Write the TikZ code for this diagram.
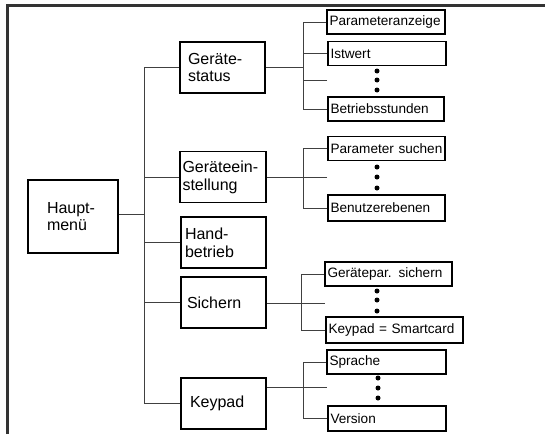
\documentclass[tikz,border=0pt]{standalone}
\usepackage{fontspec}
\setmainfont{Liberation Sans}
\begin{document}
\begin{tikzpicture}[x=1pt,y=-1pt,
  mainbox/.style={draw=black, line width=1.3pt, minimum height=51pt, inner ysep=0pt, align=left, font=\fontsize{16}{17.8}\selectfont},
  subbox/.style={draw=black, line width=1.3pt, minimum height=24pt, inner ysep=0pt, inner xsep=2.5pt, align=left, font=\fontsize{13.6}{15}\selectfont},
  conn/.style={draw=black!75, line width=0.9pt},
  dotn/.style={circle, fill=black, inner sep=0pt, minimum size=5pt}]
\useasboundingbox (0,0) rectangle (545,434);
% frame
\draw[line width=3pt, draw=black!80] (7,434) -- (7,5) -- (545,5);
% main nodes
\node[mainbox, minimum height=73pt, inner xsep=19pt, text width=52pt] (haupt) at (73,216.5) {Haupt-\\menü\\[4pt]};
\node[mainbox, inner xsep=8pt, text width=69pt] (gs) at (222.5,67.5) {Geräte-\\status};
\node[mainbox, inner xsep=2.5pt, text width=81pt] (ge) at (223,177) {Geräteein-\\stellung};
\node[mainbox, inner xsep=4pt, text width=77pt] (hb) at (223.5,242.5) {Hand-\\betrieb};
\node[mainbox, inner xsep=6pt, text width=73pt] (si) at (223.5,302.5) {Sichern};
\node[mainbox, inner xsep=9pt, text width=67pt] (kp) at (223.5,403.5) {Keypad};
% sub nodes
\node[subbox, text width=113pt] (pa) at (386,22) {Parameteranzeige};
\node[subbox, text width=113pt] (iw) at (387,53.5) {Istwert};
\node[subbox, text width=111pt] (bs) at (386,109) {Betriebsstunden};
\node[subbox, text width=112pt] (ps) at (386.5,148.5) {Parameter suchen};
\node[subbox, text width=112pt, minimum height=26pt] (be) at (386.5,208) {Benutzerebenen};
\node[subbox, text width=122pt] (gps) at (388.5,274) {Gerätepar. sichern};
\node[subbox, text width=132pt, minimum height=26pt] (ks) at (394.5,330) {Keypad = Smartcard};
\node[subbox, text width=114pt] (sp) at (386.5,362) {Sprache};
\node[subbox, text width=113pt, minimum height=25pt] (ve) at (387,418.5) {Version};
% dots
\foreach \n/\y in {a1/71,a2/80,a3/90}{\node[dotn] (\n) at (377,\y) {};}
\foreach \n/\y in {b1/167,b2/177,b3/188}{\node[dotn] (\n) at (377,\y) {};}
\foreach \n/\y in {c1/291,c2/300,c3/311}{\node[dotn] (\n) at (377,\y) {};}
\foreach \n/\y in {d1/378,d2/388,d3/398}{\node[dotn] (\n) at (378,\y) {};}
% main trunk
\coordinate (t) at (144,214);
\draw[conn] (haupt.east |- t) -- (t);
\draw[conn] (gs.west) -- (gs.west -| t) -- (kp.west -| t) -- (kp.west);
\draw[conn] (ge.west) -- (ge.west -| t);
\draw[conn] (hb.west) -- (hb.west -| t);
\draw[conn] (si.west) -- (si.west -| t);
% group 1
\coordinate (s1) at (303,80);
\coordinate (e1) at (327,80);
\draw[conn] (gs.east) -- (gs.east -| s1);
\draw[conn] (pa.west) -- (pa.west -| s1) -- (bs.west -| s1) -- (bs.west);
\draw[conn] (iw.west) -- (iw.west -| s1);
\draw[conn] (e1) -- (s1);
% group 2
\coordinate (s2) at (303,177);
\coordinate (e2) at (327,177);
\draw[conn] (ge.east |- s2) -- (s2);
\draw[conn] (ps.west) -- (ps.west -| s2) -- (be.west -| s2) -- (be.west);
\draw[conn] (e2) -- (s2);
% group 3
\coordinate (s3) at (301,303);
\coordinate (e3) at (325,303);
\draw[conn] (si.east |- s3) -- (e3);
\draw[conn] (gps.west) -- (gps.west -| s3) -- (ks.west -| s3) -- (ks.west);
% group 4
\coordinate (s4) at (303,387);
\coordinate (e4) at (327,387);
\coordinate (k1) at (266,387);
\draw[conn] (kp.east |- k1) -- (e4);
\draw[conn] (sp.west) -- (sp.west -| s4) -- (ve.west -| s4) -- (ve.west);
\end{tikzpicture}
\end{document}
